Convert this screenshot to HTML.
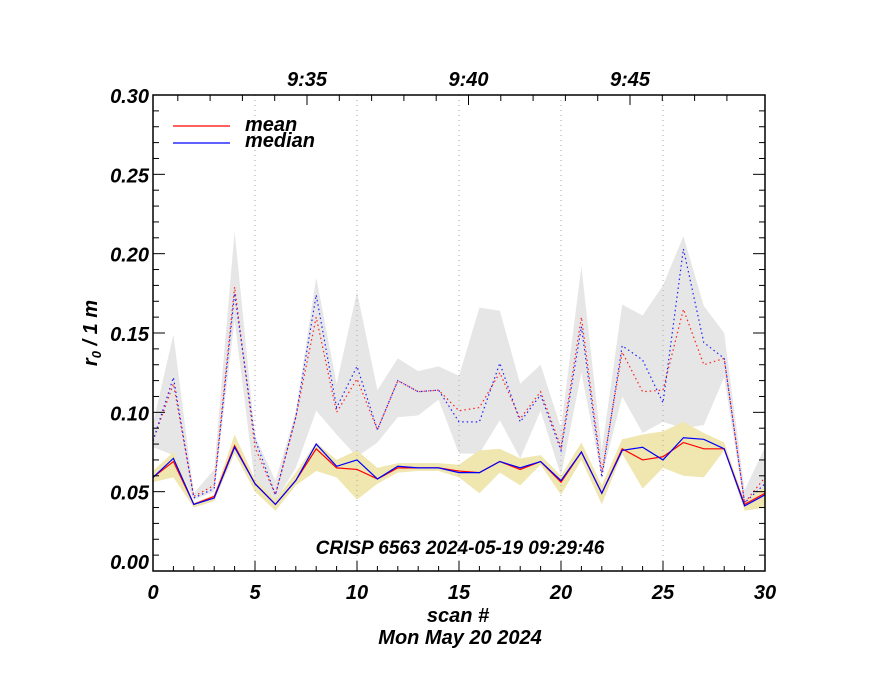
<!DOCTYPE html>
<html><head><meta charset="utf-8"><style>
html,body{margin:0;padding:0;background:#fff;}
body{position:relative;width:880px;height:680px;}
#chart{position:absolute;left:0;top:0;}
svg text{font-family:"Liberation Sans",sans-serif;font-weight:bold;font-style:italic;fill:#000;}
</style></head><body>
<svg id="chart" width="880" height="680" xmlns="http://www.w3.org/2000/svg"></svg>
<script>
const scans=[0,1,2,3,4,5,6,7,8,9,10,11,12,13,14,15,16,17,18,19,20,21,22,23,24,25,26,27,28,29,30];
const meanLow=[0.059,0.069,0.042,0.047,0.079,0.055,0.042,0.057,0.077,0.065,0.064,0.058,0.065,0.065,0.065,0.063,0.062,0.069,0.064,0.069,0.056,0.075,0.049,0.077,0.070,0.072,0.081,0.077,0.077,0.042,0.049];
const medianLow=[0.059,0.071,0.042,0.046,0.078,0.055,0.042,0.057,0.080,0.066,0.070,0.058,0.066,0.065,0.065,0.062,0.062,0.069,0.065,0.069,0.057,0.075,0.049,0.076,0.078,0.070,0.084,0.083,0.077,0.041,0.048];
const meanHigh=[0.082,0.118,0.047,0.054,0.179,0.078,0.048,0.097,0.160,0.100,0.121,0.089,0.120,0.113,0.114,0.101,0.103,0.125,0.096,0.113,0.078,0.160,0.062,0.138,0.113,0.114,0.165,0.130,0.134,0.043,0.059];
const medianHigh=[0.082,0.122,0.046,0.052,0.175,0.083,0.048,0.097,0.174,0.103,0.129,0.089,0.120,0.113,0.114,0.094,0.094,0.131,0.094,0.111,0.076,0.154,0.059,0.142,0.133,0.106,0.203,0.144,0.134,0.043,0.055];
const greyUpper=[0.093,0.149,0.049,0.064,0.214,0.085,0.057,0.100,0.185,0.118,0.176,0.114,0.134,0.126,0.129,0.123,0.166,0.164,0.118,0.130,0.090,0.192,0.076,0.168,0.161,0.180,0.211,0.167,0.150,0.051,0.078];
const greyLower=[0.078,0.073,0.045,0.050,0.158,0.055,0.044,0.065,0.101,0.086,0.072,0.081,0.097,0.098,0.108,0.074,0.074,0.095,0.071,0.101,0.060,0.125,0.059,0.110,0.087,0.094,0.090,0.092,0.122,0.040,0.045];
const yelUpper=[0.063,0.075,0.043,0.048,0.086,0.058,0.045,0.062,0.081,0.070,0.076,0.065,0.068,0.068,0.068,0.067,0.076,0.077,0.071,0.073,0.060,0.081,0.054,0.083,0.086,0.088,0.094,0.087,0.081,0.044,0.053];
const yelLower=[0.056,0.059,0.040,0.044,0.074,0.050,0.038,0.054,0.063,0.059,0.045,0.055,0.062,0.063,0.063,0.059,0.049,0.062,0.054,0.067,0.048,0.070,0.042,0.074,0.052,0.065,0.060,0.059,0.076,0.038,0.040];
const xTicks=[0,5,10,15,20,25,30];
const yTicks=[0,0.05,0.10,0.15,0.20,0.25,0.30];
const yTickLabels=["0.00","0.05","0.10","0.15","0.20","0.25","0.30"];
const timeLabels=["9:35","9:40","9:45"];
const timeMajorMin=[5,10,15];

const L=153,R=765,T=95,B=571;
const X=v=>L+(R-L)*v/30;
const Y=v=>B-(B-T)*v/0.30;
const TM=m=>307+(m-5)*32.3;
const svg=document.getElementById('chart');
const NS='http://www.w3.org/2000/svg';
function mk(tag,attrs,parent){const e=document.createElementNS(NS,tag);for(const k in attrs)e.setAttribute(k,attrs[k]);(parent||svg).appendChild(e);return e;}

function band(up,lo,fill,name){
  let d='M'+scans.map((s,i)=>X(s)+','+Y(up[i])).join('L');
  for(let i=scans.length-1;i>=0;i--)d+='L'+X(scans[i])+','+Y(lo[i]);
  const p=mk('path',{d:d+'Z',fill:fill,stroke:'none'});
  
  
}
band(greyUpper,greyLower,'#e6e6e6','grey-range-band');
band(yelUpper,yelLower,'#efe6b0','yellow-range-band');

for(const t of [5,10,15,20,25]){
  const l=mk('line',{x1:X(t),x2:X(t),y1:T,y2:B,stroke:'#aaa','stroke-width':1,'stroke-dasharray':'1,4'});
  
  
}

function line(vals,color,dash,name){
  const p=mk('polyline',{points:scans.map((s,i)=>X(s)+','+Y(vals[i])).join(' '),fill:'none',stroke:color,'stroke-width':1.2});
  if(dash)p.setAttribute('stroke-dasharray',dash);
  
  
}
line(meanHigh,'#ff2020','1.5,3','mean-dotted-line');
line(medianHigh,'#2020ff','1.5,3','median-dotted-line');
line(meanLow,'#ff0000',null,'mean-line');
line(medianLow,'#0000ff',null,'median-line');

const fr=mk('rect',{x:L,y:T,width:R-L,height:B-T,fill:'none',stroke:'#000','stroke-width':1.5});



for(let s=0;s<=30;s++){
  const len=(s%5===0)?10:5;
  mk('line',{x1:X(s),x2:X(s),y1:B,y2:B-len,stroke:'#000','stroke-width':1});
}
xTicks.forEach(t=>{
  const tx=mk('text',{x:X(t),y:B+28,'text-anchor':'middle','font-size':20});
  tx.textContent=t;
  
  
});
for(let m=1;m<=18;m++){
  const x=TM(m); if(x<L||x>R)continue;
  const len=(m%5===0)?10:6;
  mk('line',{x1:x,x2:x,y1:T,y2:T+len,stroke:'#000','stroke-width':1});
}
timeLabels.forEach((lab,i)=>{
  const tx=mk('text',{x:TM(timeMajorMin[i]),y:T-9,'text-anchor':'middle','font-size':20});
  tx.textContent=lab;
  
  
});
for(let k=0;k<=30;k++){
  const v=k*0.01,len=(k%5===0)?12:6;
  mk('line',{x1:L,x2:L+len,y1:Y(v),y2:Y(v),stroke:'#000','stroke-width':1});
  mk('line',{x1:R,x2:R-len,y1:Y(v),y2:Y(v),stroke:'#000','stroke-width':1});
}
yTicks.forEach((t,i)=>{
  const yy=i===0?Y(t)-2:Y(t)+8;
  const tx=mk('text',{x:L-4,y:yy,'text-anchor':'end','font-size':20});
  tx.textContent=yTickLabels[i];
  
  
});
</script>
<svg x="0" y="0" width="880" height="680" style="position:absolute;left:0;top:0" xmlns="http://www.w3.org/2000/svg">
<text transform="translate(97,333) rotate(-90)" text-anchor="middle" font-size="20">r<tspan font-size="13" dy="4">0</tspan><tspan dy="-4"> / 1 m</tspan></text>
<line x1="173" y1="126" x2="230" y2="126" stroke="#ff0000" stroke-width="1.2"/>
<text x="245" y="131" font-size="20">mean</text>
<line x1="173" y1="143" x2="230" y2="143" stroke="#0000ff" stroke-width="1.2"/>
<text x="245" y="147" font-size="20">median</text>
<text x="460" y="554" text-anchor="middle" font-size="19">CRISP 6563 2024-05-19 09:29:46</text>
<text x="458" y="622" text-anchor="middle" font-size="20">scan #</text>
<text x="460" y="644" text-anchor="middle" font-size="20">Mon May 20 2024</text>
</svg>
</body></html>
